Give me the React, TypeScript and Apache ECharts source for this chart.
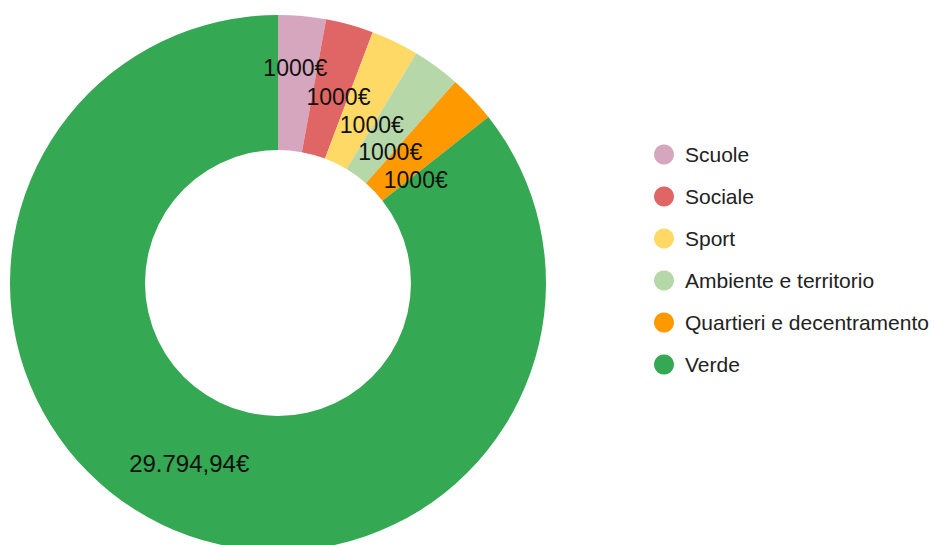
import React, { useEffect, useRef } from "react";
import * as echarts from "echarts";

const categories = ["Scuole", "Sociale", "Sport", "Ambiente e territorio", "Quartieri e decentramento", "Verde"];
const values = [1000, 1000, 1000, 1000, 1000, 29794.94];
const labelTexts = ["1000€", "1000€", "1000€", "1000€", "1000€", "29.794,94€"];
const colors = ["#D5A6BD", "#E06666", "#FFD966", "#B6D7A8", "#FF9900", "#34A853"];
const labelOffsets: [number, number][] = [[-1, -12], [6, 10], [5, 25], [-8, 33], [-10, 37], [0, -3]];
const labelSizes = [23, 23, 23, 23, 23, 24];

export default function App() {
  const ref = useRef<HTMLDivElement>(null);
  useEffect(() => {
    if (!ref.current) return;
    const chart = echarts.init(ref.current, null, { renderer: "svg" });
    chart.setOption({
      animation: false,
      color: colors,
      textStyle: { fontFamily: "'Liberation Sans', Arial, sans-serif" },
      legend: {
        orient: "vertical",
        left: 649,
        top: 139,
        icon: "circle",
        itemWidth: 20,
        itemHeight: 20,
        itemGap: 21,
        data: categories,
        textStyle: { fontSize: 21, color: "#222", padding: [0, 0, 0, 6], fontFamily: "'Liberation Sans', Arial, sans-serif" },
      },
      series: [
        {
          type: "pie",
          center: [278, 283],
          radius: [133, 268],
          startAngle: 90,
          clockwise: true,
          avoidLabelOverlap: false,
          labelLine: { show: false },
          itemStyle: { borderWidth: 0 },
          emphasis: { disabled: true },
          label: {
            show: true,
            position: "inside",
            fontSize: 23,
            color: "#111",
            fontFamily: "'Liberation Sans', Arial, sans-serif",
          },
          data: categories.map((name, i) => ({
            name,
            value: values[i],
            label: { formatter: labelTexts[i], offset: labelOffsets[i], fontSize: labelSizes[i] },
          })),
        },
      ],
    });
    return () => chart.dispose();
  }, []);
  return <div ref={ref} style={{ position: "absolute", left: 0, top: 0, width: 935, height: 545 }} />;
}
